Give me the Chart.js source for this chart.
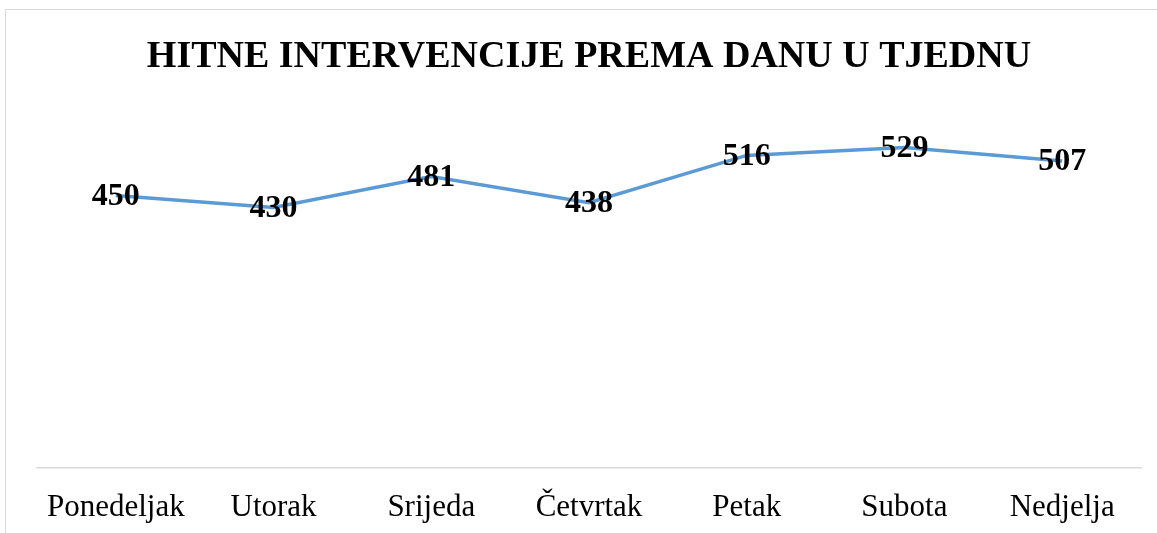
<!DOCTYPE html>
<html>
<head>
<meta charset="utf-8">
<script src="https://cdn.jsdelivr.net/npm/chart.js@4/dist/chart.umd.min.js"></script>
<style>
  html, body { margin:0; padding:0; background:#fff; overflow:hidden; }
  #box { position:absolute; left:5px; top:9px; width:1162px; height:550px; border:1.5px solid #d9d9d9; box-sizing:border-box; }
  #box canvas { position:absolute; left:0; top:0; }
</style>
</head>
<body>
<div id="box"><canvas id="chart" width="1162" height="540"></canvas></div>
<script>

const days   = ['Ponedeljak', 'Utorak', 'Srijeda', 'Četvrtak', 'Petak', 'Subota', 'Nedjelja']
const counts = [450, 430, 481, 438, 516, 529, 507]

const serif = "'Liberation Serif', 'Times New Roman', serif"

// draw the value over each point (no datalabels plugin here)
const valueLabels = {
      id: 'valueLabels',
      afterDatasetsDraw(chart){
            const ctx = chart.ctx
            const meta = chart.getDatasetMeta(0)
            ctx.save()
            ctx.font = 'bold 32px ' + serif
            ctx.fillStyle = '#000'
            ctx.textAlign = 'center'
            ctx.textBaseline = 'middle'
            meta.data.forEach((pt, i)=>{
                  ctx.fillText(String(chart.data.datasets[0].data[i]), pt.x, pt.y + 1)
            })
            ctx.restore()
      }
}

const setup = {
      type: 'line',
      data: {
            labels: days,
            datasets: [{
                  label: 'Intervencije',
                  data: counts,
                  borderColor: '#5B9BD5',
                  borderWidth: 3.5,
                  pointRadius: 0,
                  tension: 0,
                  fill: false,
            }]
      },
      options: {
            responsive: false,
            animation: false,
            layout: { padding: { left: 31, right: 27, top: 0, bottom: 3 } },
            plugins: {
                  legend: { display: false },
                  tooltip: { enabled: false },
                  title: {
                        display: true,
                        text: 'HITNE INTERVENCIJE PREMA DANU U TJEDNU',
                        color: '#000',
                        font: { family: serif, size: 38, weight: 'bold' },
                        padding: { top: 24, bottom: 25 }
                  }
            },
            scales: {
                  x: {
                        offset: true,
                        grid: { display: false, drawTicks: false },
                        border: { display: true, color: '#d9d9d9', width: 1.5 },
                        ticks: {
                              color: '#000',
                              padding: 21,
                              maxRotation: 0,
                              autoSkip: false,
                              font: { family: serif, size: 31 }
                        }
                  },
                  y: {
                        display: false,
                        min: 0,
                        max: 600
                  }
            }
      },
      plugins: [valueLabels]
}

new Chart(document.getElementById('chart'), setup)
</script>
</body>
</html>
